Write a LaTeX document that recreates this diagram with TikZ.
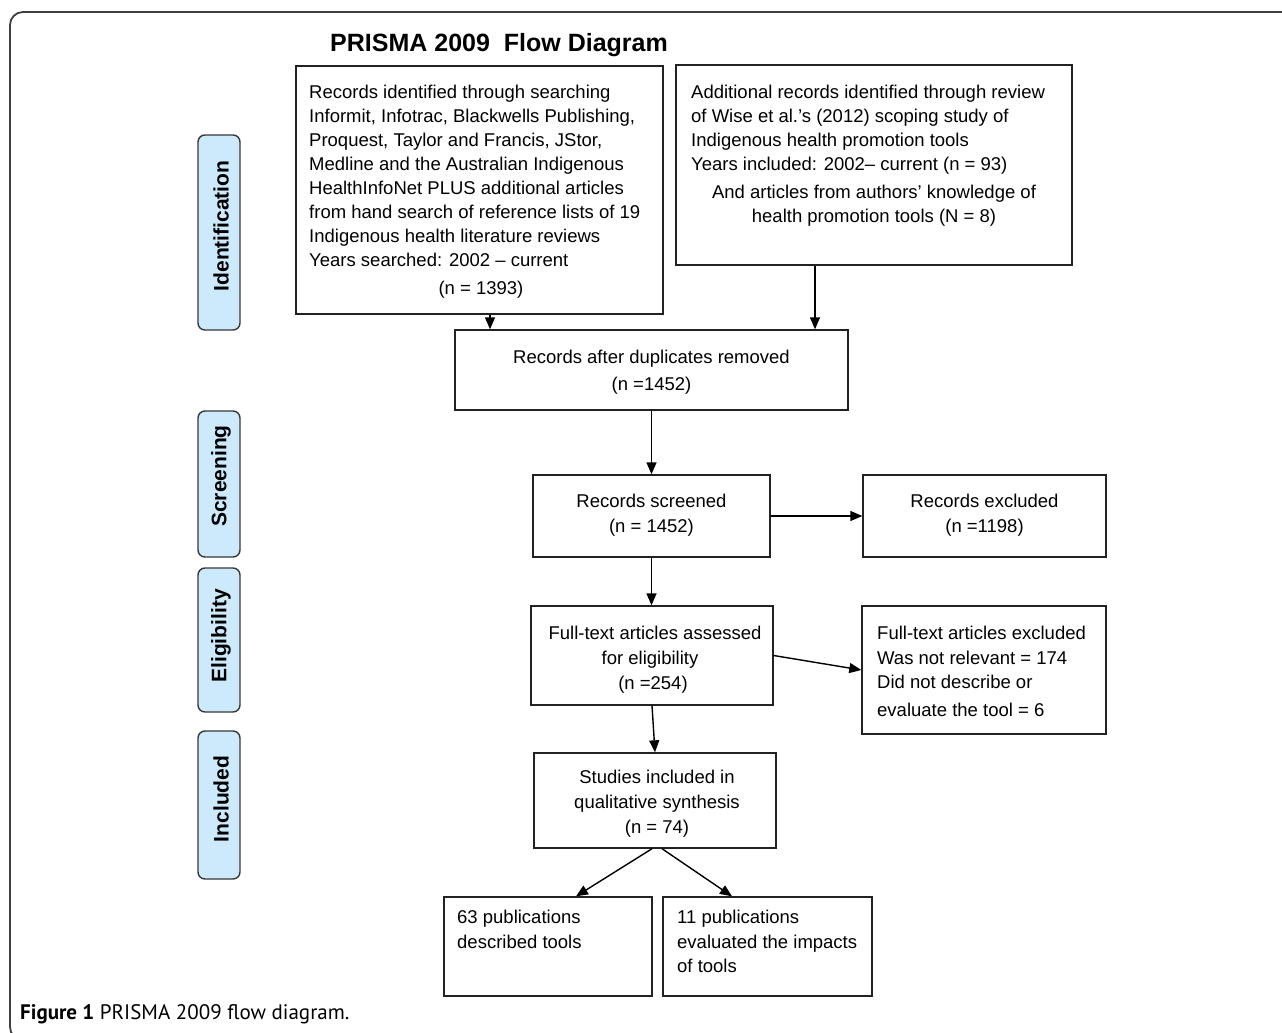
\documentclass[tikz,border=0pt]{standalone}
\usepackage{fontspec}
\setmainfont{Liberation Sans}
\newfontfamily\capfont{PT Sans}
\usetikzlibrary{arrows.meta}
\definecolor{pillblue}{HTML}{CCEAFB}
\definecolor{edge}{HTML}{222222}
\begin{document}
\begin{tikzpicture}[x=1pt,y=-1pt,
  box/.style={draw=edge, line width=1.4pt, fill=white, inner sep=0pt},
  pill/.style={draw=edge!90, line width=1.4pt, fill=pillblue, rounded corners=7pt, inner sep=0pt, minimum width=42pt},
  txt/.style={font=\fontsize{18.5}{24}\selectfont, inner sep=0pt, text=black},
  ltxt/.style={txt, anchor=base west},
  ctxt/.style={txt, anchor=base},
  ptxt/.style={font=\fontsize{21}{24}\selectfont\bfseries, inner sep=0pt, rotate=90},
  arr/.style={draw=black, line width=1.4pt, -{Triangle[length=12pt,width=10pt]}},
]
\clip (0,0) rectangle (1282,1033);
\fill[white] (0,0) rectangle (1282,1033);
\draw[rounded corners=13pt, line width=1.8pt, draw=black!75] (10,12) rectangle (1330,1040);

% title
\node[anchor=base west, inner sep=0pt, font=\fontsize{25}{28}\selectfont\bfseries] (title) at (330,52) {PRISMA 2009\ \ Flow Diagram};

% phase pills
\node[pill, minimum height=195pt] (pI) at (219,232.5) {};
\node[ptxt] (tI) at (221,226) {Identification};
\node[pill, minimum height=146pt] (pS) at (219,484) {};
\node[ptxt] (tS) at (221,476) {Screening};
\node[pill, minimum height=144pt] (pE) at (219,640) {};
\node[ptxt] (tE) at (221,636) {Eligibility};
\node[pill, minimum height=148pt] (pN) at (219,805) {};
\node[ptxt] (tN) at (221,799) {Included};

% boxes
\node[box, minimum width=367pt, minimum height=248pt] (A) at (479.5,190) {};
\node[box, minimum width=396pt, minimum height=200pt] (B) at (874,165) {};
\node[box, minimum width=393pt, minimum height=80pt] (D) at (651.5,370) {};
\node[box, minimum width=237pt, minimum height=82pt] (S) at (651.5,516) {};
\node[box, minimum width=243pt, minimum height=82pt] (X) at (984.5,516) {};
\node[box, minimum width=242pt, minimum height=99pt] (E) at (652,655.5) {};
\node[box, minimum width=244pt, minimum height=128pt] (F) at (984,670) {};
\node[box, minimum width=242pt, minimum height=95pt] (St) at (655,800.5) {};
\node[box, minimum width=208pt, minimum height=99pt] (P1) at (548,946.5) {};
\node[box, minimum width=209pt, minimum height=99pt] (P2) at (767.5,946.5) {};

% box A text
\node[ltxt] (a0) at (309,98.5) {Records identified through searching};
\node[ltxt] (a1) at (309,122.5) {Informit, Infotrac, Blackwells Publishing,};
\node[ltxt] (a2) at (309,146.5) {Proquest, Taylor and Francis, JStor,};
\node[ltxt] (a3) at (309,170.5) {Medline and the Australian Indigenous};
\node[ltxt] (a4) at (309,194.5) {HealthInfoNet PLUS additional articles};
\node[ltxt] (a5) at (309,218.5) {from hand search of reference lists of 19};
\node[ltxt] (a6) at (309,242.5) {Indigenous health literature reviews};
\node[ltxt] (a7) at (309,266.5) {Years searched: 2002 -- current};
\node[ctxt] (a8) at (481,294.5) {(n = 1393)};

% box B text
\node[ltxt] (b0) at (691,98.5) {Additional records identified through review};
\node[ltxt] (b1) at (691,122) {of Wise et al.’s (2012) scoping study of};
\node[ltxt] (b2) at (691,146.5) {Indigenous health promotion tools};
\node[ltxt] (b3) at (691,170.5) {Years included: 2002-- current (n = 93)};
\node[ctxt] (b4) at (874,198.5) {And articles from authors’ knowledge of};
\node[ctxt] (b5) at (874,222.5) {health promotion tools (N = 8)};

% other texts
\node[ctxt] (d0) at (651.5,363.5) {Records after duplicates removed};
\node[ctxt] (d1) at (651.5,390.5) {(n =1452)};
\node[ctxt] (s0) at (651.5,507.5) {Records screened};
\node[ctxt] (s1) at (651.5,532.5) {(n = 1452)};
\node[ctxt] (x0) at (984.5,507.5) {Records excluded};
\node[ctxt] (x1) at (984.5,532.5) {(n =1198)};
\node[ctxt] (e0) at (655,639.5) {Full-text articles assessed};
\node[ctxt] (e1) at (650,664.5) {for eligibility};
\node[ctxt] (e2) at (653,689.5) {(n =254)};
\node[ltxt] (f0) at (877,639.5) {Full-text articles excluded};
\node[ltxt] (f1) at (877,664.5) {Was not relevant = 174};
\node[ltxt] (f2) at (877,688.5) {Did not describe or};
\node[ltxt] (f3) at (877,716.5) {evaluate the tool = 6};
\node[ctxt] (t0) at (657,783.5) {Studies included in};
\node[ctxt] (t1) at (657,808.5) {qualitative synthesis};
\node[ctxt] (t2) at (657,833.5) {(n = 74)};
\node[ltxt] (p0) at (457,923.5) {63 publications};
\node[ltxt] (p1) at (457,948.5) {described tools};
\node[ltxt] (q0) at (677,923.5) {11 publications};
\node[ltxt] (q1) at (677,948.5) {evaluated the impacts};
\node[ltxt] (q2) at (677,972.5) {of tools};

% connectors
\draw[arr] ([xshift=10.5pt]A.south) -- ([xshift=10.5pt]A.south |- D.north);
\draw[arr] ([xshift=-59pt]B.south) -- ([xshift=-59pt]B.south |- D.north);
\draw[arr] (D.south) -- (S.north);
\draw[arr] (S.east) -- (X.west);
\draw[arr] (S.south) -- (S.south |- E.north);
\draw[arr] (E.east) -- (F.west);
\draw[arr] (E.south) -- (St.north);
\draw[arr] ([xshift=-3pt]St.south) -- ([xshift=28pt]P1.north);
\draw[arr] ([xshift=7pt]St.south) -- ([xshift=-35.5pt]P2.north);

% caption
\node[anchor=base west, inner sep=0pt, font=\capfont\fontsize{21}{24}\selectfont] (cap) at (20,1019) {\textbf{Figure 1} PRISMA 2009 flow diagram.};
\end{tikzpicture}
\end{document}
